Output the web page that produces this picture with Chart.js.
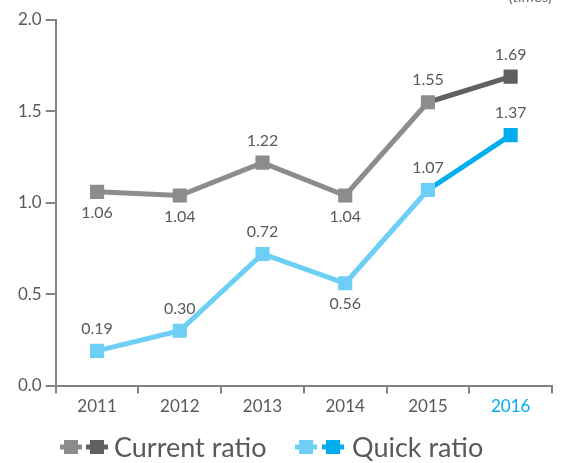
<!DOCTYPE html>
<html>
<head>
<meta charset="utf-8">
<script src="https://cdn.jsdelivr.net/npm/chart.js@4"></script>
<style>
  html, body { margin: 0; padding: 0; background: #fff; }
  #wrap { width: 562px; height: 463px; position: relative; }
</style>
</head>
<body>
<div id="wrap"><canvas id="myChart" width="562" height="463"></canvas></div>
<script>
    const years = ['2011', '2012', '2013', '2014', '2015', '2016'];
    const currentRatio = [1.06, 1.04, 1.22, 1.04, 1.55, 1.69];
    const quickRatio = [0.19, 0.30, 0.72, 0.56, 1.07, 1.37];
    const currentLabelSide = ['below', 'below', 'above', 'below', 'above', 'above'];
    const quickLabelSide = ['above', 'above', 'above', 'below', 'above', 'above'];
    const yTicks = [0, 0.5, 1.0, 1.5, 2.0];

    const grey = '#8c8c8d';
    const greyDark = '#5f6062';
    const blueLight = '#6dcff6';
    const blue = '#00aeef';
    const textGrey = '#58595b';
    const fontFamily = 'Lato, "Open Sans", sans-serif';
    const last = years.length - 1;

    // value labels next to each point
    const valueLabels = {
      id: 'valueLabels',
      afterDatasetsDraw(chart) {
        const ctx = chart.ctx;
        const sides = [currentLabelSide, quickLabelSide];
        ctx.save();
        ctx.font = '16px ' + fontFamily;
        ctx.fillStyle = textGrey;
        ctx.textAlign = 'center';
        ctx.textBaseline = 'middle';
        chart.data.datasets.forEach((ds, i) => {
          chart.getDatasetMeta(i).data.forEach((pt, j) => {
            const dy = sides[i][j] === 'above' ? -22 : 21;
            ctx.fillText(ds.data[j].toFixed(2), pt.x, pt.y + dy);
          });
        });
        ctx.restore();
      }
    };

    // legend with two marker swatches per series, plus the unit note
    const legendMarks = {
      id: 'legendMarks',
      afterDraw(chart) {
        const ctx = chart.ctx;
        const y = 447;
        function swatch(x, color) {
          ctx.strokeStyle = color;
          ctx.lineWidth = 5;
          ctx.beginPath();
          ctx.moveTo(x - 11, y);
          ctx.lineTo(x + 11, y);
          ctx.stroke();
          ctx.fillStyle = color;
          ctx.fillRect(x - 7, y - 7, 14, 14);
        }
        ctx.save();
        swatch(71, grey);
        swatch(97, greyDark);
        swatch(306, blueLight);
        swatch(333, blue);
        ctx.font = '27px ' + fontFamily;
        ctx.fillStyle = textGrey;
        ctx.textAlign = 'left';
        ctx.textBaseline = 'middle';
        ctx.fillText('Current ratio', 114, y + 1);
        ctx.fillText('Quick ratio', 352, y + 1);
        ctx.font = '15px ' + fontFamily;
        ctx.textAlign = 'right';
        ctx.textBaseline = 'bottom';
        ctx.fillStyle = '#6d6e71';
        ctx.fillText('(times)', 552, 5);
        ctx.restore();
      }
    };

    function series(label, values, light, dark) {
      return {
        label: label,
        data: values,
        borderColor: light,
        borderWidth: 5,
        pointStyle: 'rect',
        pointRadius: 10,
        pointHoverRadius: 10,
        pointBorderWidth: 0,
        pointBackgroundColor: values.map((v, i) => i === last ? dark : light),
        pointBorderColor: values.map((v, i) => i === last ? dark : light),
        tension: 0,
        segment: {
          borderColor: c => c.p1DataIndex === last ? dark : light
        }
      };
    }

    const data = {
      labels: years,
      datasets: [
        series('Current ratio', currentRatio, grey, greyDark),
        series('Quick ratio', quickRatio, blueLight, blue)
      ]
    };

    const config = {
      type: 'line',
      data: data,
      plugins: [valueLabels, legendMarks],
      options: {
        responsive: false,
        animation: false,
        layout: { padding: { top: 20, right: 3, bottom: 43, left: 14 } },
        plugins: {
          legend: { display: false },
          tooltip: { enabled: false }
        },
        scales: {
          x: {
            offset: true,
            border: { color: '#808285', width: 2 },
            grid: { drawOnChartArea: false, offset: true, color: '#808285', lineWidth: 2, tickLength: 8 },
            ticks: {
              font: { family: fontFamily, size: 17 },
              color: c => c.index === last ? blue : textGrey,
              padding: 3
            }
          },
          y: {
            min: 0,
            max: 2,
            afterBuildTicks: axis => { axis.ticks = yTicks.map(v => ({ value: v })); },
            border: { color: '#808285', width: 2 },
            grid: { drawOnChartArea: false, color: '#808285', lineWidth: 2, tickLength: 10 },
            ticks: {
              font: { family: fontFamily, size: 17 },
              color: textGrey,
              padding: 4,
              callback: v => v.toFixed(1)
            }
          }
        }
      }
    };

const myChart = new Chart(
  document.getElementById('myChart'),
  config
);
</script>
</body>
</html>
